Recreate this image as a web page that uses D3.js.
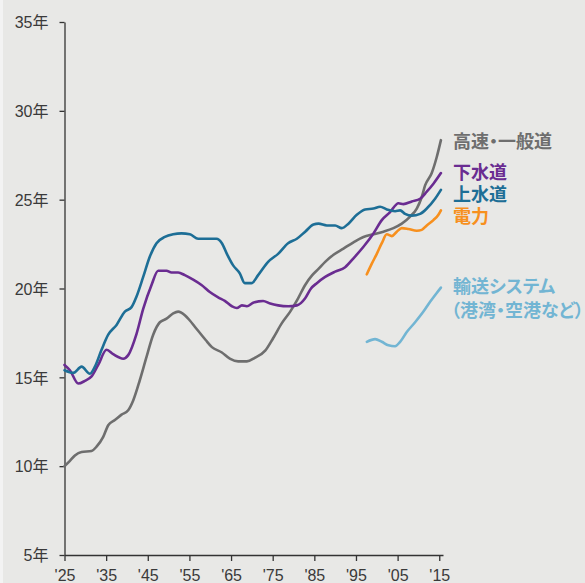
<!DOCTYPE html>
<html>
<head>
<meta charset="utf-8">
<script src="https://cdn.jsdelivr.net/npm/d3@7"></script>
<style>
  html, body { margin: 0; padding: 0; background: #e8e8e6; }
  svg { display: block; }
  .tick text { font-family: "Liberation Sans", "Noto Sans CJK JP", sans-serif; font-size: 16px; fill: #3a3a3a; }
  .lbl { font-family: "Liberation Sans", "Noto Sans CJK JP", sans-serif; font-size: 18px; font-weight: bold; font-feature-settings: "palt"; }
</style>
</head>
<body>
<svg id="chart" width="585" height="583"></svg>
<script>
// ---- data ----
const seriesNames = ["高速・一般道", "下水道", "上水道", "電力", "輸送システム"];
const xTickYears = [1925, 1935, 1945, 1955, 1965, 1975, 1985, 1995, 2005, 2015];
const yTickValues = [5, 10, 15, 20, 25, 30, 35];

const roads = [[1925,10.0],[1926.3,10.3],[1927.5,10.6],[1929.1,10.8],[1931.5,10.85],[1932.7,11.1],[1934.3,11.65],[1935.5,12.3],[1937.1,12.6],[1938.7,12.9],[1940.3,13.15],[1941.5,13.7],[1943.1,14.85],[1944.7,16.15],[1946.3,17.4],[1947.9,18.1],[1949.5,18.3],[1951.1,18.6],[1952.3,18.7],[1953.9,18.5],[1955.1,18.2],[1956.3,17.85],[1958.9,17.1],[1960.4,16.7],[1962.8,16.4],[1964.7,16.05],[1966.7,15.9],[1968.8,15.9],[1970.7,16.1],[1973.2,16.5],[1975.1,17.2],[1977.2,18.05],[1979.2,18.7],[1981.1,19.45],[1982.8,20.2],[1984.5,20.75],[1986,21.1],[1987.6,21.5],[1989.6,21.9],[1992,22.25],[1994.4,22.6],[1996.8,22.9],[1999.2,23.05],[2001.6,23.2],[2004,23.4],[2006,23.65],[2008,24.05],[2009.6,24.5],[2010.8,25.15],[2011.6,25.8],[2013.2,26.5],[2014.4,27.4],[2015.4,28.35]];

const sewer = [[1925,15.7],[1926.3,15.4],[1928.3,14.65],[1929.9,14.8],[1931.5,15.05],[1933.1,15.7],[1935.1,16.55],[1936.7,16.3],[1939.1,16.05],[1940.3,16.25],[1942.3,17.45],[1943.9,18.85],[1945.9,20.2],[1947.5,21.0],[1949.5,21.0],[1950.7,20.9],[1952.3,20.9],[1953.9,20.75],[1955.9,20.5],[1957.9,20.2],[1959.9,19.8],[1961.9,19.5],[1963.5,19.3],[1965.2,19.0],[1966.4,18.9],[1967.6,19.05],[1968.8,19.0],[1970.3,19.2],[1972.7,19.3],[1974.4,19.15],[1976.3,19.05],[1978.7,19.0],[1980.8,19.05],[1982.8,19.45],[1984.2,20.0],[1985.6,20.3],[1987.6,20.65],[1990,20.95],[1992.4,21.2],[1994.4,21.7],[1996.8,22.35],[1999.2,23.1],[2001.2,23.85],[2003.2,24.3],[2005.2,24.8],[2006.4,24.75],[2008.4,24.9],[2010.4,25.05],[2012,25.45],[2013.6,25.9],[2015.4,26.5]];

const water = [[1925,15.4],[1927.1,15.25],[1929.1,15.6],[1931.1,15.2],[1932.3,15.6],[1933.9,16.55],[1935.5,17.4],[1937.5,17.95],[1939.5,18.7],[1941.1,18.95],[1942.3,19.55],[1943.9,20.65],[1945.5,21.8],[1947.1,22.55],[1949.1,22.9],[1951.1,23.05],[1953.1,23.1],[1955.1,23.05],[1957.1,22.8],[1961.5,22.8],[1962.8,22.55],[1964,21.95],[1965.5,21.3],[1967.1,20.85],[1968.3,20.3],[1969.9,20.3],[1971.5,20.75],[1973.9,21.5],[1976.3,21.95],[1978.7,22.55],[1980.8,22.8],[1982.8,23.2],[1984.8,23.6],[1986,23.65],[1988,23.55],[1990,23.55],[1991.6,23.4],[1993.2,23.65],[1995.2,24.15],[1997.2,24.45],[1999.2,24.5],[2000.8,24.6],[2002.4,24.45],[2004.4,24.35],[2005.6,24.4],[2006.8,24.2],[2008.4,24.1],[2010.4,24.2],[2012,24.5],[2014,25.05],[2015.4,25.55]];

const power = [[1997.6,20.8],[1998.8,21.4],[2000,21.95],[2001.2,22.55],[2002.4,23.05],[2003.6,22.95],[2004.8,23.2],[2006,23.4],[2007.6,23.35],[2009.6,23.25],[2010.8,23.3],[2012,23.55],[2013.6,23.85],[2014.8,24.15],[2015.4,24.4]];

const transport = [[1997.6,17.0],[1999.6,17.15],[2001.2,17.0],[2002.8,16.8],[2004.4,16.75],[2005.6,17.0],[2007.2,17.55],[2009.2,18.1],[2011.2,18.7],[2012.8,19.25],[2014.4,19.75],[2015.4,20.05]];

// ---- layout / style ----
const colors = ["#6e6e6e", "#6a2c91", "#1d6e96", "#f7901e", "#72b5d3"];
const seriesData = [roads, sewer, water, power, transport];
// label anchor values (in y-units) for the right-side labels
const labelAt = [28.3, 26.55, 25.3, 24.05, 20.1];

const svg = d3.select("#chart");
svg.append("rect").attr("x", 0).attr("y", 0).attr("width", 3).attr("height", 583).attr("fill", "#f3f3f3");

const x = d3.scaleLinear().domain([1925, 2015.9]).range([64.5, 443]);
const y = d3.scaleLinear().domain([5, 35]).range([555, 22]);

const xAxis = d3.axisBottom(x).tickValues(xTickYears)
  .tickFormat(d => "'" + String(d).slice(2)).tickSize(6).tickSizeOuter(0).tickPadding(9);
const yAxis = d3.axisLeft(y).tickValues(yTickValues)
  .tickFormat(d => d + "年").tickSize(5).tickSizeOuter(0).tickPadding(11);

const gx = svg.append("g").attr("transform", "translate(0,555)").call(xAxis);
const gy = svg.append("g").attr("transform", "translate(64.5,0)").call(yAxis);
[gx, gy].forEach(g => {
  g.select(".domain").attr("stroke", "#333").attr("stroke-width", 1.3);
  g.selectAll(".tick line").attr("stroke", "#333").attr("stroke-width", 1.3);
});
gy.selectAll(".tick text").attr("dy", "0.36em");

const line = d3.line().x(d => x(d[0])).y(d => y(d[1])).curve(d3.curveMonotoneX);

seriesData.forEach((s, i) => {
  svg.append("path").datum(s)
    .attr("fill", "none").attr("stroke", colors[i])
    .attr("stroke-width", 2.6).attr("stroke-linejoin", "round").attr("stroke-linecap", "round")
    .attr("d", line);
});

// labels
const lx = 453;
seriesNames.forEach((name, i) => {
  const t = svg.append("text").attr("class", "lbl")
    .attr("x", lx).attr("y", y(labelAt[i])).attr("dy", "0.36em")
    .attr("fill", colors[i]).text(name);
});
svg.append("text").attr("class", "lbl")
  .attr("x", lx - 2).attr("y", y(labelAt[4]) + 23.5).attr("dy", "0.36em")
  .attr("fill", colors[4]).text("（港湾・空港など）");
</script>
</body>
</html>
